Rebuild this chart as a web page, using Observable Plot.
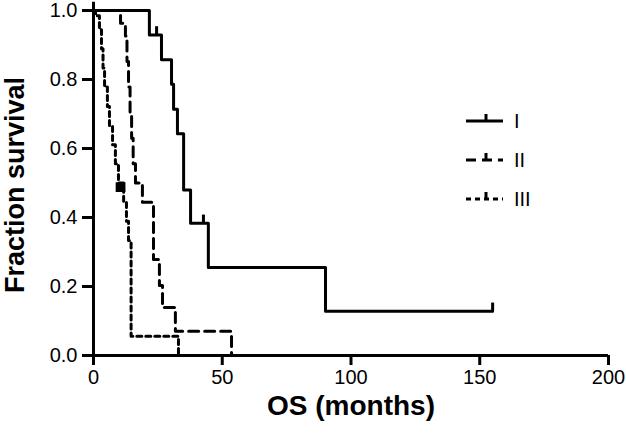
<!DOCTYPE html>
<html><head><meta charset="utf-8">
<script src="https://cdn.jsdelivr.net/npm/d3@7"></script>
<script src="https://cdn.jsdelivr.net/npm/@observablehq/plot@0.6"></script>
<style>
body{margin:0;background:#fff;font-family:Arial,"Liberation Sans",sans-serif}
#wrap{position:relative;width:626px;height:434px}
#legend{position:absolute;left:0;top:0}
</style>
</head><body><div id="wrap"></div>
<script>
// Kaplan–Meier steps (time in months, survival fraction after the event)
const groups = ["I", "II", "III"];
const timesI = [0, 21.7, 26.4, 30.3, 31.1, 32.6, 35.0, 37.7, 44.6, 90.1, 155];
const survI  = [1, 0.929, 0.857, 0.786, 0.714, 0.643, 0.48, 0.383, 0.255, 0.128, 0.128];
const timesII = [0, 10.5, 12.4, 13.0, 13.6, 14.2, 14.8, 15.4, 16.3, 19.0, 23.3, 25.6, 26.8, 31.8, 53.6];
const survII  = [1, 0.963, 0.926, 0.852, 0.778, 0.704, 0.630, 0.556, 0.5, 0.444, 0.278, 0.203, 0.139, 0.07, 0];
const timesIII = [0, 0.8, 2.3, 3.1, 3.7, 4.3, 5.4, 6.2, 7.4, 8.5, 9.7, 11.7, 12.8, 13.6, 14.6, 33.0];
const survIII  = [1, 0.985, 0.944, 0.889, 0.833, 0.778, 0.722, 0.667, 0.611, 0.556, 0.5, 0.444, 0.389, 0.333, 0.056, 0];
// censor marks
const censorI_t = [24.5, 42.7, 155];
const censorI_s = [0.929, 0.383, 0.128];
const squareIII_t = [10.5];
const squareIII_s = [0.488];
const xTicks = [0, 50, 100, 150, 200];
const yTicks = [0, 0.2, 0.4, 0.6, 0.8, 1.0];

const mk = (g, ts, ss) => ts.map((t, i) => ({group: g, t, s: ss[i]}));
const dI = mk("I", timesI, survI);
const dII = mk("II", timesII, survII);
const dIII = mk("III", timesIII, survIII);
const cI = mk("I", censorI_t, censorI_s);
const sqIII = mk("III", squareIII_t, squareIII_s);

const dash = {I: null, II: "10,6", III: "5,4"};

const plot = Plot.plot({
  width: 626, height: 434,
  marginLeft: 93, marginRight: 18, marginTop: 10, marginBottom: 79,
  style: {fontFamily: "Arial, 'Liberation Sans', sans-serif", color: "#000", background: "#fff"},
  x: {domain: [0, 200]},
  y: {domain: [0, 1]},
  marks: [
    Plot.axisX({ticks: xTicks, tickSize: 10, tickPadding: 4, strokeWidth: 3, fontSize: 20, label: null, tickFormat: d => d}),
    Plot.axisY({ticks: yTicks, tickSize: 11, tickPadding: 5, strokeWidth: 3, fontSize: 20, label: null, tickFormat: d3.format(".1f")}),
    Plot.line(dI, {x: "t", y: "s", curve: "step-after", stroke: "#000", strokeWidth: 3}),
    Plot.line(dII, {x: "t", y: "s", curve: "step-after", stroke: "#000", strokeWidth: 3, strokeDasharray: dash.II}),
    Plot.line(dIII, {x: "t", y: "s", curve: "step-after", stroke: "#000", strokeWidth: 3, strokeDasharray: dash.III}),
    Plot.ruleX(cI, {x: "t", y1: "s", y2: d => d.s + 0.024, stroke: "#000", strokeWidth: 3}),
    Plot.dot(sqIII, {x: "t", y: "s", symbol: "square", r: 5.5, fill: "#000", stroke: "none"}),
    Plot.ruleY([0], {stroke: "#000", strokeWidth: 3}),
    Plot.ruleX([0], {y1: 0, y2: 1.024, stroke: "#000", strokeWidth: 3}),
    Plot.text(["OS (months)"], {frameAnchor: "bottom", dy: 59, fontSize: 28, fontWeight: "bold", fill: "#000"}),
    Plot.text(["Fraction survival"], {frameAnchor: "left", dx: -78, dy: 2, rotate: -90, textAnchor: "middle", fontSize: 27, fontWeight: "bold", fill: "#000"})
  ]
});
const wrap = document.getElementById("wrap");
wrap.appendChild(plot);

// legend overlay
const leg = d3.select(wrap).append("svg").attr("id", "legend").attr("width", 626).attr("height", 434);
const legendY = {I: 121, II: 160, III: 199};
groups.forEach(g => {
  const y = legendY[g];
  const row = leg.append("g");
  row.append("line").attr("x1", 466).attr("x2", 503).attr("y1", y).attr("y2", y)
    .attr("stroke", "#000").attr("stroke-width", 3).attr("stroke-dasharray", dash[g]);
  row.append("line").attr("x1", 486).attr("x2", 486).attr("y1", y).attr("y2", y - 7)
    .attr("stroke", "#000").attr("stroke-width", 3);
  row.append("text").attr("x", 514).attr("y", y + 7).attr("font-size", 20)
    .attr("font-family", "Arial, 'Liberation Sans', sans-serif").text(g);
});
</script>
</body></html>
